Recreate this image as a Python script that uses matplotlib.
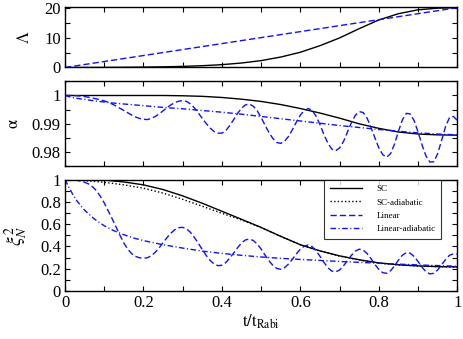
import numpy as np
import matplotlib
matplotlib.use("Agg")
import matplotlib.pyplot as plt
from matplotlib.ticker import MultipleLocator, FuncFormatter

plt.rcParams['font.family'] = ['Liberation Serif', 'DejaVu Serif']
plt.rcParams['mathtext.fontset'] = 'stix'

# sampling grids (time in units of t_Rabi)
t_coarse = [0, 0.05, 0.1, 0.15, 0.2, 0.25, 0.3, 0.35, 0.4, 0.45, 0.5,
            0.55, 0.6, 0.65, 0.7, 0.75, 0.8, 0.85, 0.9, 0.95, 1.0]
t_fine = np.linspace(0, 1, 101)
t_adiab = [0, 0.01, 0.02, 0.03, 0.04, 0.05, 0.075, 0.1, 0.125, 0.15, 0.175, 0.2,
           0.25, 0.3, 0.35, 0.4, 0.45, 0.5, 0.55, 0.6, 0.65, 0.7, 0.75, 0.8,
           0.85, 0.9, 0.95, 1.0]
t_line = [0, 1]

# Lambda(t)
lam_sc = [0, 0.01, 0.03, 0.07, 0.13, 0.22, 0.37, 0.6, 0.95, 1.5, 2.3,
          3.5, 5.1, 7.3, 9.9, 13.0, 15.9, 18.0, 19.3, 19.85, 20.0]
lam_lin = [0, 20]

# alpha(t)
alpha_sc = [1, 1, 1, 1, 1, 1, 0.9999, 0.9997, 0.9993, 0.9987, 0.9979,
            0.9968, 0.9954, 0.9938, 0.9920, 0.9900, 0.9884, 0.9871, 0.9864, 0.9861, 0.9860]
alpha_lin = [1.0000, 1.0000, 1.0000, 0.9999, 0.9998, 0.9996, 0.9994, 0.9991, 0.9988, 0.9985,
             0.9981, 0.9976, 0.9970, 0.9963, 0.9955, 0.9947, 0.9939, 0.9931, 0.9924, 0.9919,
             0.9916, 0.9915, 0.9919, 0.9926, 0.9935, 0.9946, 0.9957, 0.9967, 0.9975, 0.9980,
             0.9982, 0.9979, 0.9970, 0.9956, 0.9938, 0.9919, 0.9901, 0.9885, 0.9873, 0.9867,
             0.9867, 0.9876, 0.9894, 0.9915, 0.9937, 0.9955, 0.9967, 0.9970, 0.9962, 0.9946,
             0.9922, 0.9895, 0.9869, 0.9848, 0.9834, 0.9831, 0.9839, 0.9856, 0.9880, 0.9907,
             0.9931, 0.9947, 0.9954, 0.9948, 0.9927, 0.9897, 0.9862, 0.9832, 0.9811, 0.9805,
             0.9815, 0.9838, 0.9871, 0.9904, 0.9930, 0.9943, 0.9940, 0.9920, 0.9887, 0.9850,
             0.9815, 0.9791, 0.9782, 0.9795, 0.9829, 0.9874, 0.9914, 0.9937, 0.9935, 0.9911,
             0.9871, 0.9826, 0.9787, 0.9765, 0.9766, 0.9795, 0.9842, 0.9890, 0.9922, 0.9926,
             0.9912]
alpha_lin_ad = [1.0, 0.9996, 0.9993, 0.9990, 0.9988, 0.9986, 0.9981, 0.9977, 0.9973, 0.9970,
                0.9967, 0.9964, 0.9958, 0.9953, 0.9947, 0.9941, 0.9934, 0.9926, 0.9918, 0.9910,
                0.9902, 0.9894, 0.9887, 0.9880, 0.9874, 0.9868, 0.9864, 0.9861]

# squeezing xi_N^2(t)
xi_sc = [1.0, 1.0, 0.995, 0.978, 0.952, 0.91, 0.853, 0.787, 0.715, 0.643, 0.57,
         0.49, 0.415, 0.36, 0.315, 0.28, 0.252, 0.235, 0.225, 0.219, 0.216]
xi_sc_ad = [1.0, 0.99, 0.975, 0.952, 0.922, 0.878, 0.822, 0.76, 0.697, 0.637, 0.568,
            0.49, 0.414, 0.358, 0.313, 0.278, 0.25, 0.234, 0.224, 0.218, 0.215]
xi_lin = [1.000, 1.000, 0.998, 0.993, 0.985, 0.975, 0.960, 0.935, 0.900, 0.850,
          0.790, 0.720, 0.650, 0.575, 0.500, 0.430, 0.375, 0.335, 0.310, 0.298,
          0.294, 0.298, 0.316, 0.347, 0.388, 0.433, 0.479, 0.519, 0.550, 0.568,
          0.571, 0.557, 0.525, 0.479, 0.427, 0.371, 0.319, 0.274, 0.242, 0.227,
          0.231, 0.255, 0.296, 0.341, 0.389, 0.431, 0.458, 0.466, 0.453, 0.421,
          0.376, 0.322, 0.271, 0.229, 0.202, 0.195, 0.210, 0.243, 0.286, 0.334,
          0.375, 0.403, 0.412, 0.398, 0.361, 0.311, 0.257, 0.210, 0.179, 0.172,
          0.188, 0.226, 0.273, 0.320, 0.358, 0.375, 0.367, 0.336, 0.290, 0.238,
          0.193, 0.164, 0.159, 0.182, 0.225, 0.277, 0.321, 0.344, 0.339, 0.309,
          0.264, 0.214, 0.173, 0.153, 0.159, 0.189, 0.235, 0.282, 0.320, 0.333,
          0.330]
xi_lin_ad = [1.0, 0.93, 0.865, 0.81, 0.765, 0.725, 0.645, 0.585, 0.54, 0.505,
             0.475, 0.452, 0.415, 0.385, 0.358, 0.337, 0.32, 0.305, 0.293, 0.283,
             0.274, 0.265, 0.257, 0.249, 0.241, 0.234, 0.228, 0.222]

DASH = (0, (4.5, 2.2))
DASHDOT = (0, (4.0, 1.8, 0.8, 1.8))
BLUE = '#1010ff'

fig = plt.figure(figsize=(4.63, 3.39), dpi=100)
left, width = 0.1404, 0.8473
ax1 = fig.add_axes([left, 0.8009, width, 0.1799])
ax2 = fig.add_axes([left, 0.5094, width, 0.2507])
ax3 = fig.add_axes([left, 0.1416, width, 0.3289])

# top panel
ax1.plot(t_coarse, lam_sc, color='black', lw=1.0)
ax1.plot(t_line, lam_lin, color=BLUE, lw=1.0, linestyle=DASH)
ax1.set_ylim(0, 20.4)
ax1.yaxis.set_major_locator(MultipleLocator(10))
ax1.yaxis.set_minor_locator(MultipleLocator(5))
ax1.set_ylabel(r'$\Lambda$', fontsize=12)

# middle panel
ax2.plot(t_coarse, alpha_sc, color='black', lw=1.0)
ax2.plot(t_fine, alpha_lin, color=BLUE, lw=1.0, linestyle=DASH)
ax2.plot(t_adiab, alpha_lin_ad, color=BLUE, lw=1.0, linestyle=DASHDOT)
ax2.set_ylim(0.975, 1.005)
ax2.yaxis.set_major_locator(MultipleLocator(0.01))
ax2.yaxis.set_minor_locator(MultipleLocator(0.005))
ax2.set_ylabel(r'$\mathrm{\alpha}$', fontsize=12)

# bottom panel
ax3.plot(t_coarse, xi_sc, color='black', lw=1.0, label='SC')
ax3.plot(t_coarse, xi_sc_ad, color='black', lw=1.0, linestyle=(0, (1, 1.6)), label='SC-adiabatic')
ax3.plot(t_fine, xi_lin, color=BLUE, lw=1.0, linestyle=DASH, label='Linear')
ax3.plot(t_adiab, xi_lin_ad, color=BLUE, lw=1.0, linestyle=DASHDOT, label='Linear-adiabatic')
ax3.set_ylim(0, 1)
ax3.yaxis.set_major_locator(MultipleLocator(0.2))
ax3.yaxis.set_minor_locator(MultipleLocator(0.1))
ax3.set_ylabel(r'$\xi_N^2$', fontsize=14)
ax3.set_xlabel(r'$\mathrm{t/t_{Rabi}}$', fontsize=12, labelpad=1)

leg = ax3.legend(loc='upper right', bbox_to_anchor=(0.959, 1.0), borderaxespad=0,
                 fontsize=6.5, frameon=True, fancybox=False, handlelength=3.6,
                 handletextpad=1.6, labelspacing=0.55, borderpad=0.6)
leg.get_frame().set_edgecolor('black')
leg.get_frame().set_linewidth(0.8)

fmt = FuncFormatter(lambda v, p: '%g' % round(v, 6))
for ax in (ax1, ax2, ax3):
    ax.set_xlim(0, 1)
    ax.xaxis.set_major_locator(MultipleLocator(0.2))
    ax.xaxis.set_minor_locator(MultipleLocator(0.1))
    ax.tick_params(which='both', direction='in', top=True, right=True,
                   length=3.5, width=0.8, labelsize=12, pad=3)
    ax.yaxis.set_major_formatter(fmt)
    for s in ax.spines.values():
        s.set_linewidth(1.0)
for ax in (ax1, ax2):
    ax.tick_params(labelbottom=False)
ax3.xaxis.set_major_formatter(fmt)
ax1.yaxis.set_label_coords(-0.082, 0.5)
ax2.yaxis.set_label_coords(-0.11, 0.5)
ax3.yaxis.set_label_coords(-0.09, 0.5)

fig.savefig('out.png', dpi=100)
